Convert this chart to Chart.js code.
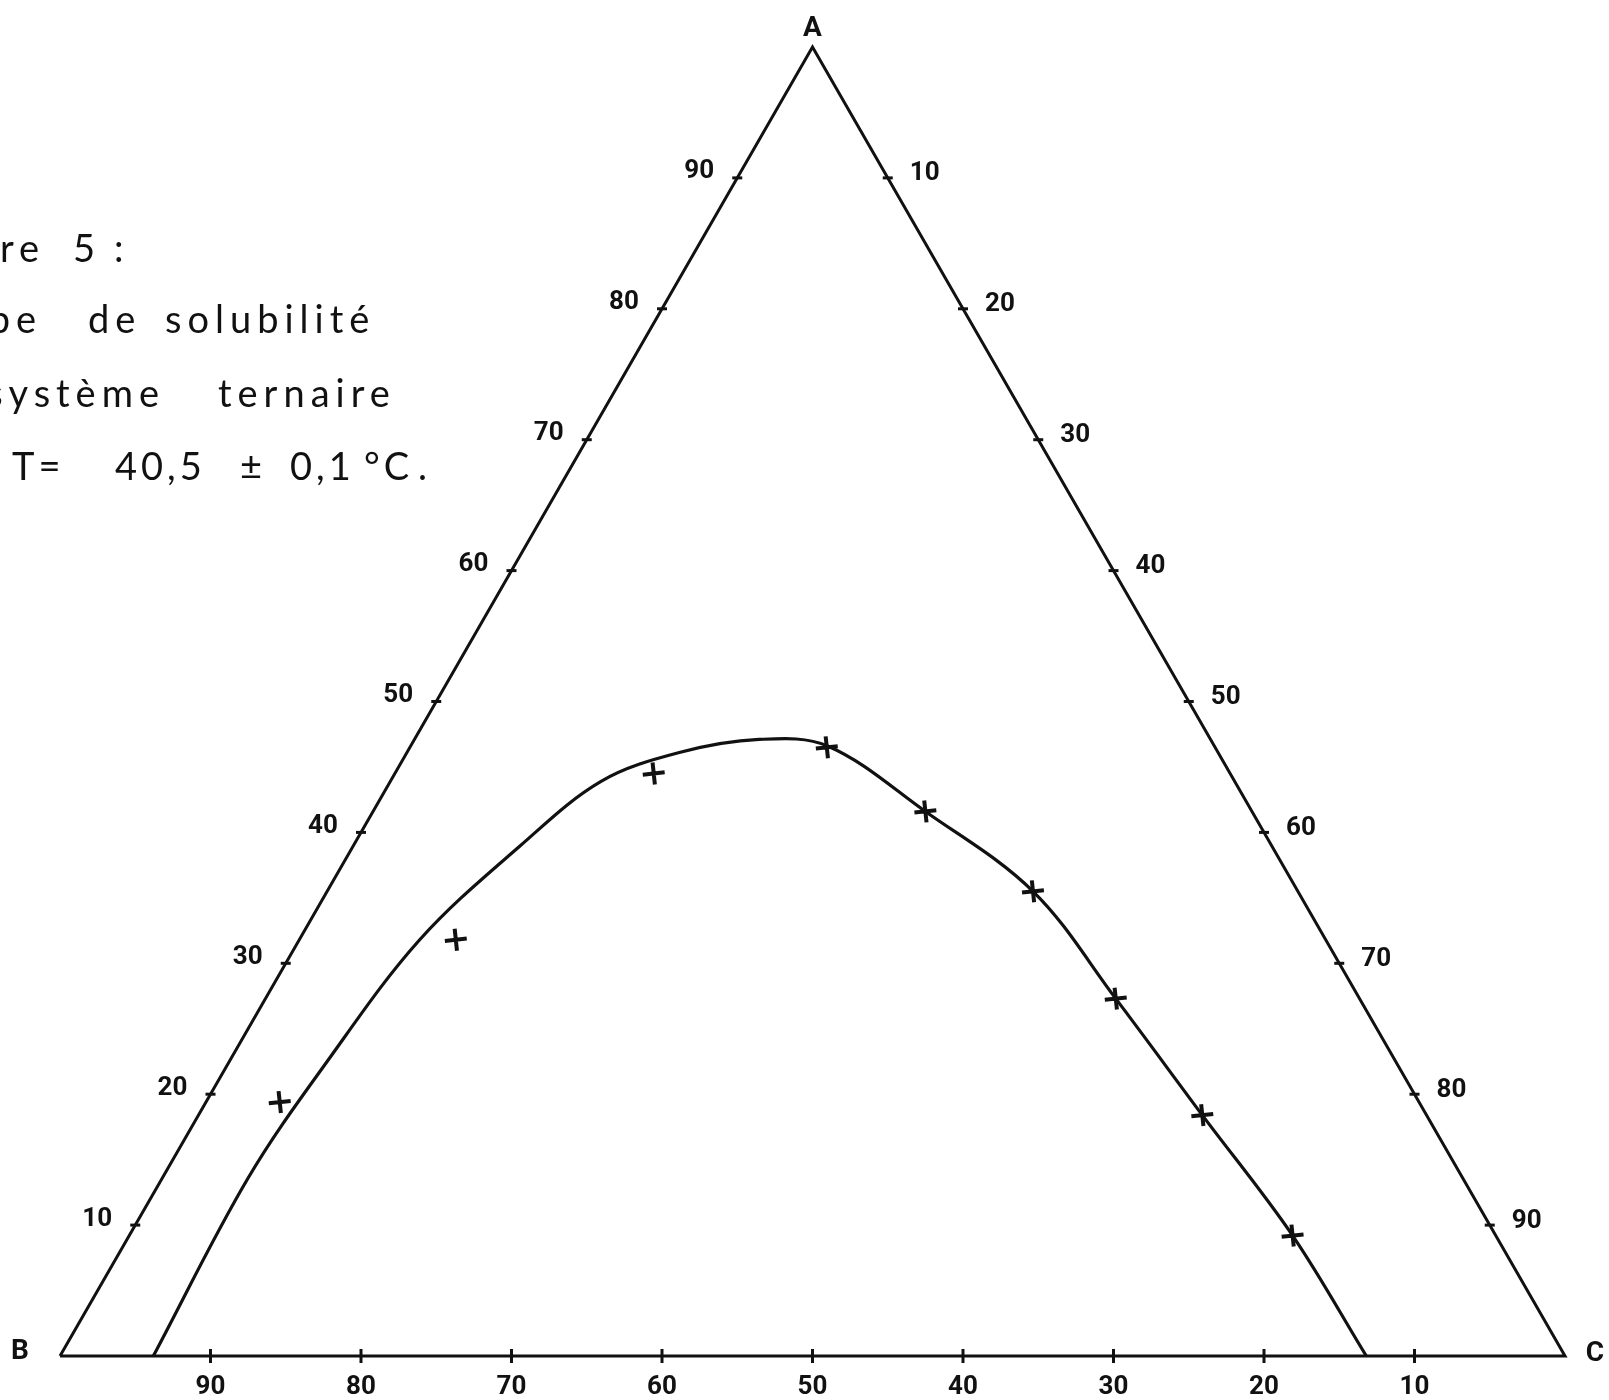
<!DOCTYPE html>
<html>
<head>
<meta charset="utf-8">
<script src="https://cdn.jsdelivr.net/npm/chart.js@4"></script>
<style>
  html, body { margin: 0; padding: 0; background: #fff; overflow: hidden; }
  #wrap { width: 1609px; height: 1400px; }
</style>
</head>
<body>
<div id="wrap"><canvas id="chart" width="1609" height="1400"></canvas></div>
<script>
// composition [A, B, C] in %
const vertexNames = ['A', 'B', 'C'];
const vertexA = [100, 0, 0];
const vertexB = [0, 100, 0];
const vertexC = [0, 0, 100];

// tick labels on each side
const leftTicks = [10, 20, 30, 40, 50, 60, 70, 80, 90];    // % A along B-A
const rightTicks = [10, 20, 30, 40, 50, 60, 70, 80, 90];   // % C along A-C
const bottomTicks = [90, 80, 70, 60, 50, 40, 30, 20, 10];  // % B along B-C

// experimental points (crosses): % A and % C
const pointsA = [19.4, 31.8, 44.5, 46.5, 41.6, 35.5, 27.3, 18.4, 9.2];
const pointsC = [4.9, 10.4, 17.2, 27.7, 36.7, 46.9, 56.5, 66.7, 77.3];

// solubility curve as drawn: % A and % C
const curveA = [0, 13.6, 22.5, 31.8, 39.0, 43.9, 46.1, 47.1, 46.6, 41.6, 35.5, 27.3, 18.4, 9.2, 0];
const curveC = [6.2, 5.7, 6.5, 8.0, 11.1, 14.0, 18.1, 22.9, 27.7, 36.7, 46.9, 56.5, 66.7, 77.3, 86.8];

// caption (left part is cut off by the page edge, as in the scan)
const captionLines = [
  ['Figure', '5', ':'],
  ['Courbe', 'de', 'solubilité'],
  ['du système', 'ternaire'],
  ['T=', '40,5', '±', '0,1', '°C', '.']
];

const tern = (a, c) => ({ x: c + a / 2, y: a });
const ink = '#111';

// where each caption word starts (first word of lines 1-3: where it ends)
const captionLayout = [
  { y: 262, x: [45, 73, 114] },
  { y: 333, x: [42, 88, 165] },
  { y: 407, x: [165, 218] },
  { y: 480, x: [12, 115, 240, 290, 364, 418] }
];

const labelsPlugin = {
  id: 'ternLabels',
  afterDatasetsDraw(chart) {
    const ctx = chart.ctx;
    const xs = chart.scales.x, ys = chart.scales.y;
    ctx.save();
    ctx.fillStyle = ink;
    ctx.textAlign = 'center';
    ctx.textBaseline = 'middle';
    ctx.font = 'bold 26px Roboto';

    const put = (idx, labels, dx, dy) => {
      chart.getDatasetMeta(idx).data.forEach((p, i) => {
        ctx.fillText(String(labels[i]), p.x + dx, p.y + dy);
      });
    };
    put(3, leftTicks, -38, -6);
    put(4, rightTicks, 37, -4);
    put(5, bottomTicks, 0, 31);

    // vertex names
    ctx.font = 'bold 28px Roboto';
    const vA = tern(vertexA[0], vertexA[2]);
    const vB = tern(vertexB[0], vertexB[2]);
    const vC = tern(vertexC[0], vertexC[2]);
    ctx.fillText(vertexNames[0], xs.getPixelForValue(vA.x), ys.getPixelForValue(vA.y) - 18);
    ctx.fillText(vertexNames[1], xs.getPixelForValue(vB.x) - 40, ys.getPixelForValue(vB.y) - 4);
    ctx.fillText(vertexNames[2], xs.getPixelForValue(vC.x) + 30, ys.getPixelForValue(vC.y) - 2);

    // caption
    ctx.font = '38px Lato';
    ctx.textBaseline = 'alphabetic';
    captionLines.forEach((words, i) => {
      const lay = captionLayout[i];
      ctx.letterSpacing = i === 3 ? '4px' : '6px';
      words.forEach((w, j) => {
        ctx.textAlign = (j === 0 && i < 3) ? 'right' : 'left';
        ctx.fillText(w, lay.x[j], lay.y);
      });
    });
    ctx.restore();
  }
};

new Chart(document.getElementById('chart').getContext('2d'), {
  type: 'scatter',
  data: {
    datasets: [
      {
        // triangle B-A-C-B
        data: [vertexB, vertexA, vertexC, vertexB].map(v => tern(v[0], v[2])),
        showLine: true,
        borderColor: ink,
        borderWidth: 3,
        pointRadius: 0,
        tension: 0
      },
      {
        data: curveA.map((a, i) => tern(a, curveC[i])),
        showLine: true,
        borderColor: ink,
        borderWidth: 3.2,
        pointRadius: 0,
        tension: 0.35
      },
      {
        data: pointsA.map((a, i) => tern(a, pointsC[i])),
        pointStyle: 'cross',
        pointRadius: 11,
        pointRotation: -6,
        borderColor: ink,
        pointBorderColor: ink,
        pointBorderWidth: 4
      },
      {
        data: leftTicks.map(a => tern(a, 0)),
        pointStyle: 'line',
        pointRadius: 5,
        pointBorderColor: ink,
        pointBorderWidth: 3
      },
      {
        data: rightTicks.map(c => tern(100 - c, c)),
        pointStyle: 'line',
        pointRadius: 5,
        pointBorderColor: ink,
        pointBorderWidth: 3
      },
      {
        data: bottomTicks.map(b => tern(0, 100 - b)),
        pointStyle: 'line',
        pointRotation: 90,
        pointRadius: 7,
        pointBorderColor: ink,
        pointBorderWidth: 3
      }
    ]
  },
  options: {
    responsive: false,
    animation: false,
    clip: false,
    layout: { padding: { left: 60, right: 44, top: 47, bottom: 44 } },
    scales: {
      x: { type: 'linear', min: 0, max: 100, display: false },
      y: { type: 'linear', min: 0, max: 100, display: false }
    },
    plugins: { legend: { display: false }, tooltip: { enabled: false } }
  },
  plugins: [labelsPlugin]
});
</script>
</body>
</html>
